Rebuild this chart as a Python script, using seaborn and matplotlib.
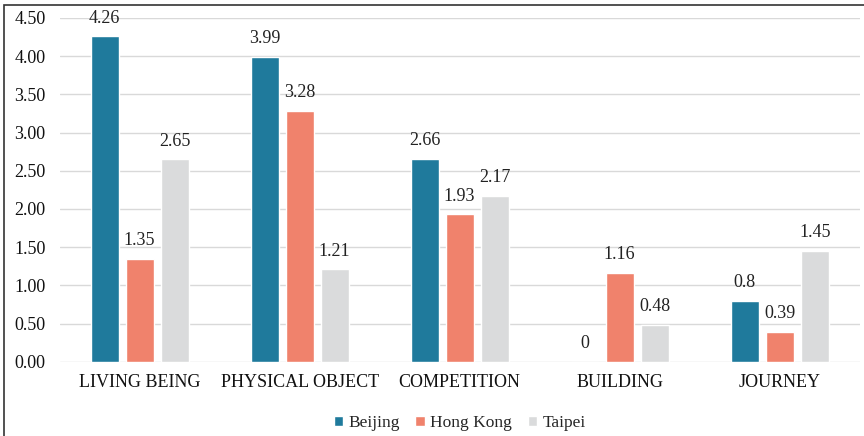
import matplotlib
matplotlib.use("Agg")
import matplotlib.pyplot as plt
from matplotlib.patches import Rectangle
import seaborn as sns
import pandas as pd

categories = ["LIVING BEING", "PHYSICAL OBJECT", "COMPETITION", "BUILDING", "JOURNEY"]
cities = ["Beijing", "Hong Kong", "Taipei"]
beijing = [4.26, 3.99, 2.66, 0, 0.8]
hong_kong = [1.35, 3.28, 1.93, 1.16, 0.39]
taipei = [2.65, 1.21, 2.17, 0.48, 1.45]
value_labels = {
    "Beijing": ["4.26", "3.99", "2.66", "0", "0.8"],
    "Hong Kong": ["1.35", "3.28", "1.93", "1.16", "0.39"],
    "Taipei": ["2.65", "1.21", "2.17", "0.48", "1.45"],
}
colors = ["#1f7a9c", "#f0826c", "#dadbdc"]
y_ticks = [0, 0.5, 1.0, 1.5, 2.0, 2.5, 3.0, 3.5, 4.0, 4.5]

df = pd.DataFrame({
    "category": categories * 3,
    "city": [c for c in cities for _ in categories],
    "value": beijing + hong_kong + taipei,
})

sns.set_style("white")
plt.rcParams["font.family"] = ["Liberation Serif", "DejaVu Serif"]

fig = plt.figure(figsize=(8.64, 4.36), dpi=100)
ax = fig.add_axes([0.069, 0.170, 0.926, 0.789])

sns.barplot(data=df, x="category", y="value", hue="city", order=categories,
            hue_order=cities, palette=colors, width=0.656, gap=0.2,
            saturation=1, ax=ax, zorder=3)

for container, city in zip(ax.containers, cities):
    ax.bar_label(container, labels=value_labels[city], padding=7,
                 fontsize=13, color="#222222")

ax.set_ylim(0, 4.5)
ax.set_xlim(-0.5, 4.5)
ax.set_yticks(y_ticks)
ax.set_yticklabels([f"{t:.2f}" for t in y_ticks])
ax.yaxis.grid(True, color="#d9d9d9", linewidth=1, zorder=0)
ax.set_axisbelow(True)
for s in ax.spines.values():
    s.set_visible(False)
ax.tick_params(axis="both", length=0, labelsize=13, colors="#111111")
ax.tick_params(axis="y", pad=10)
ax.tick_params(axis="x", pad=9)
ax.set_xlabel("")
ax.set_ylabel("")

ax.legend(loc="upper center", bbox_to_anchor=(0.5, -0.11), ncol=3,
          frameon=False, fontsize=12.5, handlelength=0.55, handleheight=0.55,
          handletextpad=0.3, columnspacing=0.9)

fig.patches.append(Rectangle((4 / 864, -0.1), 1.2, 1 - 5 / 436 + 0.1,
                             transform=fig.transFigure, fill=False,
                             edgecolor="#333333", linewidth=1.2))

fig.savefig("out.png", dpi=100)
